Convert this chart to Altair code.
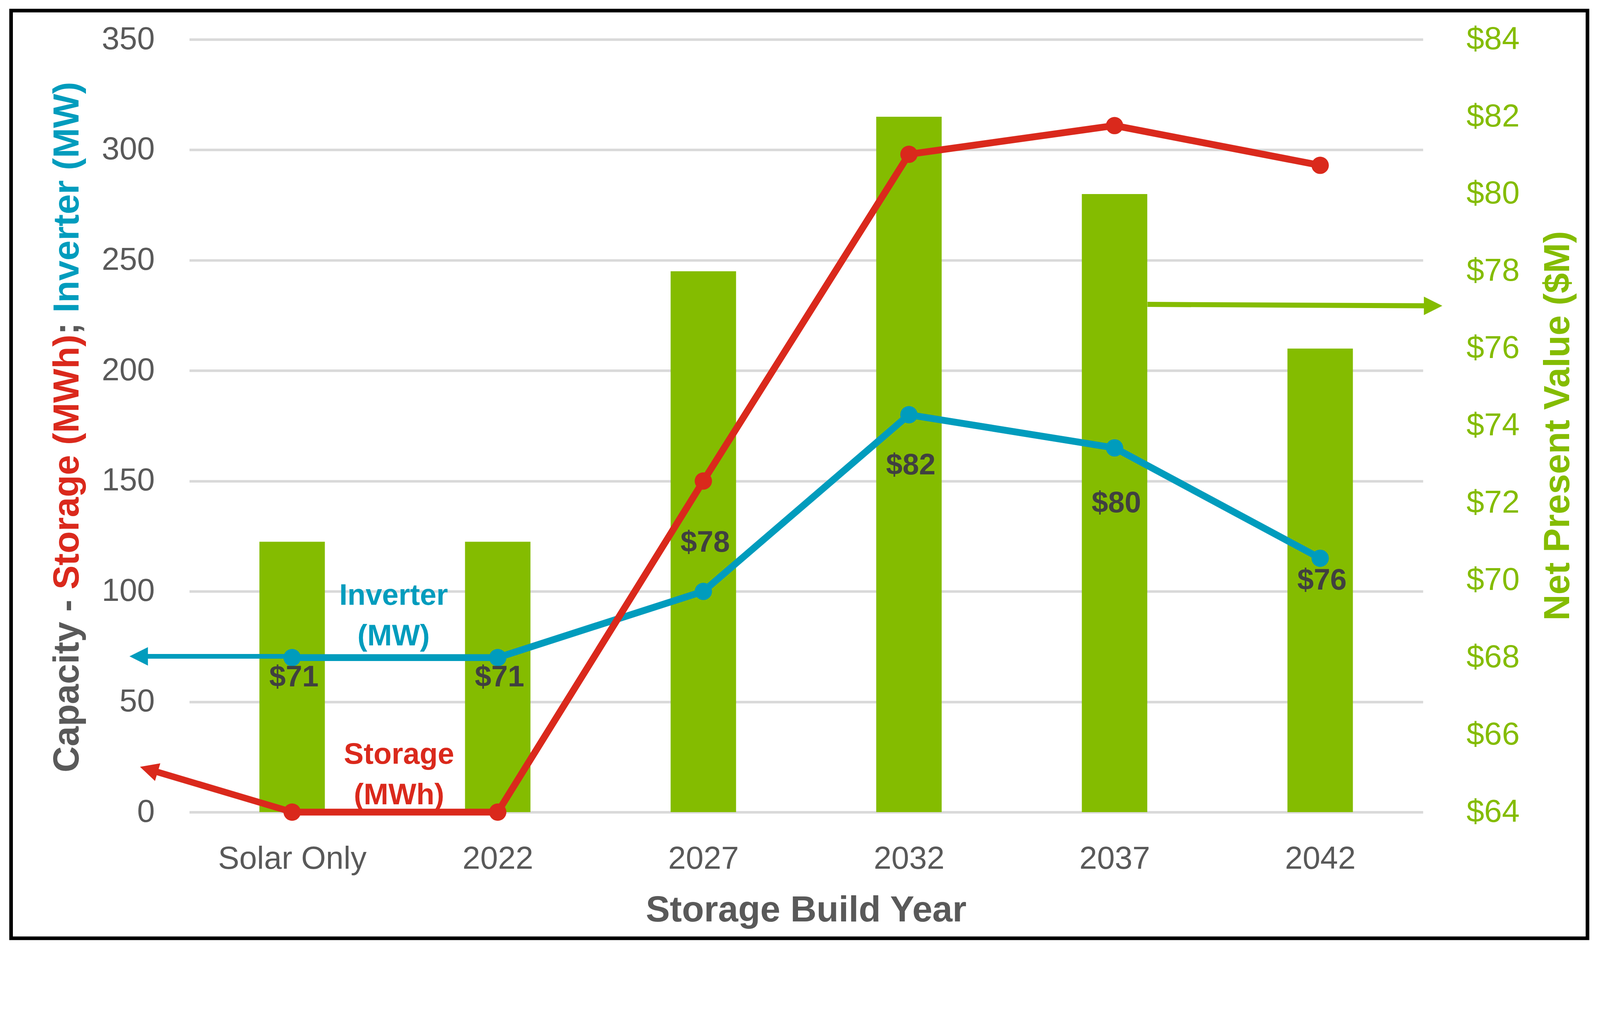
import altair as alt
import pandas as pd

# ---------------- data ----------------
categories = ["Solar Only", "2022", "2027", "2032", "2037", "2042"]
storage_mwh = [0, 0, 150, 298, 311, 293]
inverter_mw = [70, 70, 100, 180, 165, 115]
npv_musd = [71, 71, 78, 82, 80, 76]
npv_labels = ["$71", "$71", "$78", "$82", "$80", "$76"]
# where each NPV data label sits, in left-axis units (labels were placed by hand in the original)
npv_label_anchor = [61, 61, 122, 157, 140, 105]
left_ticks = [0, 50, 100, 150, 200, 250, 300, 350]
right_ticks = [64, 66, 68, 70, 72, 74, 76, 78, 80, 82, 84]

df = pd.DataFrame({
    "cat": categories,
    "storage": storage_mwh,
    "inverter": inverter_mw,
    "npv": npv_musd,
    "lab": npv_labels,
    "lab_pos": npv_label_anchor,
})
dummy = pd.DataFrame({"d": [0]})

# ---------------- style ----------------
W, H = 3412, 2138
GREEN = "#84BC00"
RED = "#DA291C"
BLUE = "#009CBD"
GRAY = "#595959"
DARK = "#404040"
FONT = "Liberation Sans"

x_enc = alt.X(
    "cat:N",
    sort=categories,
    scale=alt.Scale(type="point", padding=0.5),
    axis=alt.Axis(
        title=None, domain=False, ticks=False, labelFont=FONT, labelFontSize=88,
        labelColor=GRAY, labelPadding=86, labelAngle=0, labelLimit=2000,
    ),
)

yl_scale = alt.Scale(domain=[0, 350], nice=False, zero=True)
left_axis = alt.Axis(
    title=None, values=left_ticks, domain=False, ticks=False, grid=True,
    gridColor="#D9D9D9", gridWidth=7, labelFont=FONT, labelFontSize=88,
    labelColor=GRAY, labelPadding=96, orient="left",
)

bars = alt.Chart(df).mark_bar(color=GREEN, size=181).encode(
    x=x_enc,
    y=alt.Y(
        "npv:Q",
        scale=alt.Scale(domain=[64, 84], nice=False, zero=False),
        axis=alt.Axis(
            title=None, values=right_ticks, orient="right", domain=False, ticks=False,
            grid=False, labelFont=FONT, labelFontSize=88, labelColor=GREEN,
            labelPadding=120, labelExpr="'$' + datum.value",
        ),
    ),
    y2=alt.datum(64),
)


def ly(field):
    return alt.Y(field, type="quantitative", scale=yl_scale, axis=left_axis)


inv_line = alt.Chart(df).mark_line(color=BLUE, strokeWidth=19).encode(x=x_enc, y=ly("inverter"))
inv_pts = alt.Chart(df).mark_circle(color=BLUE, size=2300, opacity=1).encode(x=x_enc, y=ly("inverter"))
sto_line = alt.Chart(df).mark_line(color=RED, strokeWidth=19).encode(x=x_enc, y=ly("storage"))
sto_pts = alt.Chart(df).mark_circle(color=RED, size=2300, opacity=1).encode(x=x_enc, y=ly("storage"))
npv_text = alt.Chart(df).mark_text(
    font=FONT, fontSize=82, fontWeight="bold", color=DARK, baseline="middle", dx=5
).encode(x=x_enc, y=ly("lab_pos"), text="lab:N")


def txt(s, x, y, color, size, angle=0, align="center", baseline="middle", weight="bold"):
    kw = dict(text=s, font=FONT, fontSize=size, fontWeight=weight, color=color,
              align=align, baseline=baseline)
    if angle:
        kw["angle"] = angle
    return alt.Chart(dummy).mark_text(**kw).encode(x=alt.value(x), y=alt.value(y))


def seg(color, width, x1, y1, x2, y2):
    return alt.Chart(dummy).mark_rule(color=color, strokeWidth=width).encode(
        x=alt.value(x1), x2=alt.value(x2), y=alt.value(y1), y2=alt.value(y2)
    )


def head(color, x, y, angle=0):
    kw = dict(shape="M-1,0L1,-1L1,1Z", filled=True, size=2601, color=color, opacity=1,
              strokeWidth=0)
    if angle:
        kw["angle"] = angle
    return alt.Chart(dummy).mark_point(**kw).encode(x=alt.value(x), y=alt.value(y))


arrows = [
    seg(BLUE, 13, 285, 1707, -140, 1707),
    head(BLUE, -140, 1707),
    seg(RED, 18, 285, 2138, -112, 2020),
    head(RED, -112, 2020, 16.8),
    seg(GREEN, 14, 2650, 733, 3440, 737),
    head(GREEN, 3440, 737, 180),
]
texts = [
    txt("Inverter", 565, 1564, BLUE, 82, baseline="alphabetic"),
    txt("(MW)", 565, 1677, BLUE, 82, baseline="alphabetic"),
    txt("Storage", 580, 2004, RED, 82, baseline="alphabetic"),
    txt("(MWh)", 580, 2116, RED, 82, baseline="alphabetic"),
    # left title (multi-coloured)
    txt("Capacity -", -337, 2028, GRAY, 100, angle=270, align="left"),
    txt("Storage (MWh)", -337, 1522, RED, 100, angle=270, align="left"),
    txt(";", -337, 817, GRAY, 100, angle=270, align="left"),
    txt("Inverter (MW)", -337, 756, BLUE, 100, angle=270, align="left"),
    # right title
    txt("Net Present Value ($M)", 3786, 1069, GREEN, 100, angle=270),
    # x title
    txt("Storage Build Year", 1706, 2440, GRAY, 100, baseline="alphabetic"),
    # outer frame
    alt.Chart(dummy).mark_rect(fill="transparent", stroke="black", strokeWidth=10).encode(
        x=alt.value(-493), x2=alt.value(3867), y=alt.value(-80), y2=alt.value(2487)
    ),
]

left_group = alt.layer(inv_line, *arrows, inv_pts, sto_line, sto_pts, npv_text, *texts)

chart = (
    alt.layer(bars, left_group)
    .resolve_scale(y="independent")
    .properties(
        width=W,
        height=H,
        padding={"left": 515, "top": 0, "right": 481, "bottom": 365},
        autosize=alt.AutoSizeParams(type="none"),
        background="white",
    )
    .configure_view(strokeWidth=0)
)

chart.save("out.html", embed_options={"renderer": "svg", "actions": False})
